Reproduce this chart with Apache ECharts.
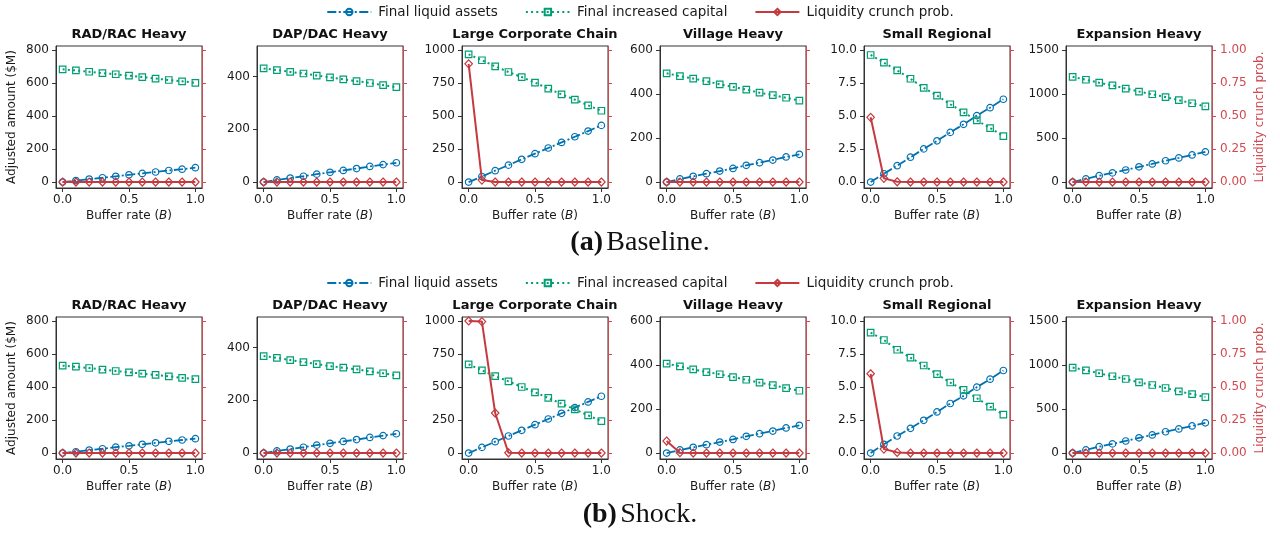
<!DOCTYPE html>
<html>
<head>
<meta charset="utf-8">
<script src="https://cdn.jsdelivr.net/npm/echarts@6/dist/echarts.min.js"></script>
<style>html,body{margin:0;padding:0;background:#fff}#c{width:1280px;height:533px}</style>
</head>
<body>
<div id="c"></div>
<script>
// ---------------- data ----------------
const bufferRates = [0, 0.1, 0.2, 0.3, 0.4, 0.5, 0.6, 0.7, 0.8, 0.9, 1.0];
const groups = ['RAD/RAC Heavy', 'DAP/DAC Heavy', 'Large Corporate Chain', 'Village Heavy', 'Small Regional', 'Expansion Heavy'];
const seriesNames = ['Final liquid assets', 'Final increased capital', 'Liquidity crunch prob.'];
const panelLabels = ['(a)', '(b)'];
const panelNames = ['Baseline.', 'Shock.'];
const xTicks = [0, 0.5, 1.0];
const amountTicks = [
  [0, 200, 400, 600, 800],
  [0, 200, 400],
  [0, 250, 500, 750, 1000],
  [0, 200, 400, 600],
  [0, 2.5, 5.0, 7.5, 10.0],
  [0, 500, 1000, 1500]
];
const amountScale = [800, 500, 1000, 600, 10, 1500];
const probTicks = [0, 0.25, 0.5, 0.75, 1.0];
const yLabel = 'Adjusted amount ($M)';
const xLabel = 'Buffer rate ({i|B})';

const baselineLiquid = [
  [0, 9, 18, 26, 35, 44, 52, 61, 70, 78, 87],
  [0, 8, 15, 22, 30, 37, 44, 51, 59, 66, 73],
  [0, 42, 86, 128, 172, 215, 258, 300, 343, 386, 429],
  [0, 14, 26, 38, 50, 62, 76, 88, 100, 114, 126],
  [0, 0.63, 1.24, 1.88, 2.51, 3.12, 3.76, 4.37, 5.03, 5.63, 6.27],
  [0, 36, 72, 104, 137, 173, 206, 242, 274, 308, 343]
];
const baselineCapital = [
  [683, 676, 668, 660, 653, 644, 636, 627, 618, 610, 601],
  [430, 424, 417, 411, 403, 396, 389, 382, 375, 367, 359],
  [967, 922, 876, 833, 795, 753, 707, 664, 624, 581, 540],
  [494, 481, 470, 458, 444, 432, 420, 406, 395, 383, 370],
  [9.62, 9.04, 8.45, 7.82, 7.13, 6.55, 5.89, 5.28, 4.67, 4.09, 3.48],
  [1195, 1162, 1128, 1098, 1062, 1028, 997, 965, 930, 895, 860]
];
const baselineCrunch = [
  [0, 0, 0, 0, 0, 0, 0, 0, 0, 0, 0],
  [0, 0, 0, 0, 0, 0, 0, 0, 0, 0, 0],
  [0.895, 0.015, 0, 0, 0, 0, 0, 0, 0, 0, 0],
  [0, 0, 0, 0, 0, 0, 0, 0, 0, 0, 0],
  [0.49, 0.028, 0.002, 0, 0, 0, 0, 0, 0, 0, 0],
  [0, 0, 0, 0, 0, 0, 0, 0, 0, 0, 0]
];
const shockLiquid = [
  [0, 8, 18, 26, 36, 44, 53, 62, 71, 79, 87],
  [0, 8, 15, 22, 30, 37, 44, 51, 59, 66, 73],
  [0, 43, 86, 129, 172, 215, 258, 301, 344, 387, 430],
  [0, 14, 26, 38, 50, 62, 76, 88, 100, 114, 126],
  [0, 0.66, 1.29, 1.87, 2.48, 3.11, 3.75, 4.33, 4.99, 5.59, 6.25],
  [0, 36, 72, 104, 137, 173, 206, 242, 274, 308, 343]
];
const shockCapital = [
  [529, 523, 515, 505, 497, 489, 481, 473, 465, 455, 448],
  [367, 360, 352, 344, 337, 329, 323, 317, 309, 302, 294],
  [672, 626, 583, 543, 500, 460, 417, 374, 331, 285, 242],
  [406, 394, 380, 368, 358, 345, 333, 320, 309, 295, 283],
  [9.11, 8.56, 7.82, 7.22, 6.63, 5.97, 5.34, 4.78, 4.15, 3.52, 2.91],
  [971, 940, 906, 872, 841, 803, 773, 739, 700, 670, 636]
];
const shockCrunch = [
  [0, 0, 0, 0, 0, 0, 0, 0, 0, 0, 0],
  [0, 0, 0, 0, 0, 0, 0, 0, 0, 0, 0],
  [1.0, 0.995, 0.303, 0.002, 0, 0, 0, 0, 0, 0, 0],
  [0.091, 0.003, 0, 0, 0, 0, 0, 0, 0, 0, 0],
  [0.60, 0.03, 0.005, 0, 0, 0, 0, 0, 0, 0, 0],
  [0, 0, 0, 0, 0, 0, 0, 0, 0, 0, 0]
];
const rows = [
  [baselineLiquid, baselineCapital, baselineCrunch],
  [shockLiquid, shockCapital, shockCrunch]
];

// ---------------- layout / style ----------------
const FONT = 'DejaVu Sans';
const SERIF = 'Liberation Serif';
const BLUE = '#0072B2', GREEN = '#009E73', RED = '#C43A3F', RED_AX = '#D04A50';
const FRAME = '#333333', TXT = '#1a1a1a';
const colLefts = [56, 257, 462, 660, 864, 1066];
const gridW = 146, gridH = 142;
const rowTops = [46, 317];
const legendTops = [5, 276];
const titleYs = [35, 306];
const captionYs = [243, 515];

const grid = [], xAxis = [], yAxis = [], series = [], graphic = [];
const fmtAmount = (c) => (c === 4 ? (v) => v.toFixed(1) : (v) => String(v));

rows.forEach((row, r) => {
  groups.forEach((name, c) => {
    const g = r * 6 + c;
    const S = amountScale[c];
    grid.push({left: colLefts[c], top: rowTops[r], width: gridW, height: gridH,
      show: true, borderColor: FRAME, borderWidth: 1, backgroundColor: 'transparent'});
    xAxis.push({
      gridIndex: g, type: 'value', min: -0.05, max: 1.05,
      axisLine: {show: true, onZero: false, lineStyle: {color: FRAME, width: 1}},
      axisTick: {show: true, customValues: xTicks, length: 4, lineStyle: {color: FRAME}},
      axisLabel: {customValues: xTicks, formatter: (v) => v.toFixed(1), fontSize: 12, color: TXT, margin: 6, fontFamily: FONT},
      splitLine: {show: false},
      name: xLabel, nameLocation: 'middle', nameGap: 22,
      nameTextStyle: {fontSize: 12, color: TXT, fontFamily: FONT,
        rich: {i: {fontStyle: 'italic', fontSize: 12, color: TXT, fontFamily: FONT}}}
    });
    yAxis.push({
      gridIndex: g, type: 'value', position: 'left', min: -0.045 * S, max: 1.03 * S,
      axisLine: {show: true, onZero: false, lineStyle: {color: FRAME, width: 1}},
      axisTick: {show: true, customValues: amountTicks[c], length: 4, lineStyle: {color: FRAME}},
      axisLabel: {customValues: amountTicks[c], formatter: fmtAmount(c), fontSize: 12, color: TXT, margin: 7, fontFamily: FONT},
      splitLine: {show: false},
      name: c === 0 ? yLabel : '', nameLocation: 'middle', nameGap: 38, nameRotate: 90,
      nameTextStyle: {fontSize: 12, color: TXT, fontFamily: FONT}
    });
    yAxis.push({
      gridIndex: g, type: 'value', position: 'right', min: -0.045, max: 1.03,
      axisLine: {show: true, onZero: false, lineStyle: {color: RED_AX, width: 1}},
      axisTick: {show: true, customValues: probTicks, length: 4, lineStyle: {color: RED_AX}},
      axisLabel: {show: c === 5, customValues: probTicks, formatter: (v) => v.toFixed(2), fontSize: 12, color: RED_AX, margin: 8, fontFamily: FONT},
      splitLine: {show: false},
      name: c === 5 ? seriesNames[2] : '', nameLocation: 'middle', nameGap: 42, nameRotate: 90,
      nameTextStyle: {fontSize: 12, color: RED_AX, fontFamily: FONT}
    });
    const pts = (arr) => bufferRates.map((x, i) => [x, arr[i]]);
    series.push({
      type: 'line', name: seriesNames[0], xAxisIndex: g, yAxisIndex: 2 * g,
      data: pts(row[0][c]), symbol: 'circle', symbolSize: 6.5, z: 2,
      lineStyle: {color: BLUE, width: 1.8, type: [9, 2.5, 2, 2.5]},
      itemStyle: {color: 'rgba(255,255,255,0)', borderColor: BLUE, borderWidth: 1.2},
      emphasis: {disabled: true}
    });
    series.push({
      type: 'line', name: seriesNames[1], xAxisIndex: g, yAxisIndex: 2 * g,
      data: pts(row[1][c]), symbol: 'rect', symbolSize: 6.5, z: 3,
      lineStyle: {color: GREEN, width: 2, type: [2, 3.2]},
      itemStyle: {color: 'rgba(255,255,255,0)', borderColor: GREEN, borderWidth: 1.2},
      emphasis: {disabled: true}
    });
    series.push({
      type: 'line', name: seriesNames[2], xAxisIndex: g, yAxisIndex: 2 * g + 1,
      data: pts(row[2][c]), symbol: 'diamond', symbolSize: [7.5, 8], z: 4,
      lineStyle: {color: RED, width: 2, type: 'solid'},
      itemStyle: {color: 'rgba(255,255,255,0)', borderColor: RED, borderWidth: 1.2},
      emphasis: {disabled: true}
    });
    graphic.push({type: 'text', x: colLefts[c] + gridW / 2, y: titleYs[r],
      style: {text: name, fontFamily: FONT, fontWeight: 'bold', fontSize: 13, fill: '#111',
        align: 'center', verticalAlign: 'middle'}});
  });
  graphic.push({type: 'text', x: 640, y: captionYs[r],
    style: {text: '{b|' + panelLabels[r] + '} {n|' + panelNames[r] + '}',
      align: 'center', verticalAlign: 'middle',
      rich: {b: {fontFamily: SERIF, fontWeight: 'bold', fontSize: 28, fill: '#111'},
             n: {fontFamily: SERIF, fontSize: 28, fill: '#111'}}}});
});

const legend = legendTops.map((t) => ({
  top: t, left: 'center', padding: 0, itemGap: 27, itemWidth: 44, itemHeight: 8,
  data: seriesNames, selectedMode: false,
  textStyle: {fontSize: 13.5, color: TXT, fontFamily: FONT, padding: [0, 0, 0, 2]}
}));

const chart = echarts.init(document.getElementById('c'), null, {renderer: 'canvas'});
chart.setOption({
  animation: false,
  backgroundColor: '#ffffff',
  textStyle: {fontFamily: FONT},
  legend, grid, xAxis, yAxis, series, graphic
});
</script>
</body>
</html>
